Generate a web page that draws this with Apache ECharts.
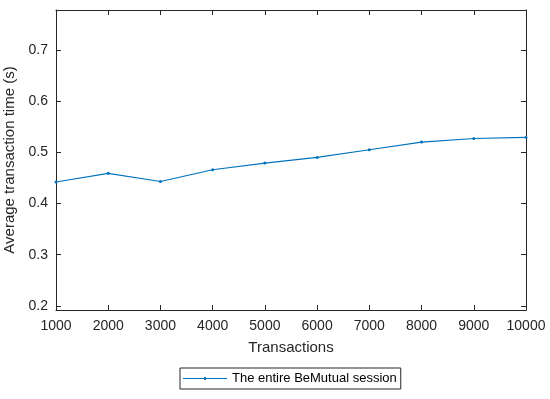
<!DOCTYPE html>
<html>
<head>
<meta charset="utf-8">
<script src="https://cdn.jsdelivr.net/npm/echarts@6/dist/echarts.min.js"></script>
<style>html,body{margin:0;padding:0;background:#fff}#c{width:550px;height:399px}</style>
</head>
<body>
<div id="c"></div>
<script>
var transactions = [1000, 2000, 3000, 4000, 5000, 6000, 7000, 8000, 9000, 10000];
var avgTime = [0.442, 0.459, 0.443, 0.466, 0.479, 0.490, 0.505, 0.520, 0.527, 0.529];
var yTicks = [0.2, 0.3, 0.4, 0.5, 0.6, 0.7];
var seriesName = 'The entire BeMutual session';

var axisColor = '#262626';
var font = 'Liberation Sans, Arial, sans-serif';
var chart = echarts.init(document.getElementById('c'));
var tick = {show: true, inside: true, length: 5, lineStyle: {color: axisColor, width: 1}};
chart.setOption({
  animation: false,
  textStyle: {fontFamily: font},
  grid: {left: 56, right: 24, top: 10, bottom: 89, containLabel: false, outerBoundsMode: 'none'},
  legend: {
    data: [{name: seriesName, icon: 'path://M0,4.5 L44,4.5 L44,5.5 L0,5.5 Z M21,3.5 L23,3.5 L23,6.5 L21,6.5 Z'}],
    left: 180, top: 368,
    orient: 'horizontal',
    borderColor: axisColor, borderWidth: 1,
    padding: [4, 4, 4, 3],
    itemWidth: 44, itemHeight: 10,
    itemGap: 4,
    textStyle: {fontSize: 13, color: '#000', fontFamily: font, padding: [0, 0, 0, 0]},
    backgroundColor: '#fff'
  },
  xAxis: [{
    type: 'value', min: 1000, max: 10000, interval: 1000,
    name: 'Transactions', nameLocation: 'middle', nameGap: 30,
    nameTextStyle: {fontSize: 15, color: '#262626', fontFamily: font},
    axisLine: {show: true, lineStyle: {color: axisColor}},
    axisTick: tick,
    axisLabel: {fontSize: 14, color: '#262626', margin: 9, fontFamily: font,
      formatter: function (v) { return String(v); }},
    splitLine: {show: false}
  }, {
    type: 'value', min: 1000, max: 10000, interval: 1000, position: 'top',
    axisLine: {show: true, lineStyle: {color: axisColor}},
    axisTick: tick, axisLabel: {show: false}, splitLine: {show: false}
  }],
  yAxis: [{
    type: 'value', min: 0.192, max: 0.778,
    name: 'Average transaction time (s)', nameLocation: 'middle', nameGap: 34,
    nameTextStyle: {fontSize: 15, color: '#262626', fontFamily: font},
    axisLine: {show: true, lineStyle: {color: axisColor}},
    axisTick: Object.assign({customValues: yTicks}, tick),
    axisLabel: {customValues: yTicks, fontSize: 14, color: '#262626', margin: 8, fontFamily: font,
      formatter: function (v) { return v.toFixed(1); }},
    splitLine: {show: false}
  }, {
    type: 'value', min: 0.192, max: 0.778, position: 'right',
    axisLine: {show: true, lineStyle: {color: axisColor}},
    axisTick: Object.assign({customValues: yTicks}, tick),
    axisLabel: {show: false}, splitLine: {show: false}
  }],
  series: [{
    name: seriesName,
    type: 'line',
    data: transactions.map(function (t, i) { return [t, avgTime[i]]; }),
    symbol: 'circle', symbolSize: 3, showSymbol: true,
    itemStyle: {color: '#0072BD'},
    lineStyle: {color: '#0072BD', width: 1.2}
  }]
});
</script>
</body>
</html>
